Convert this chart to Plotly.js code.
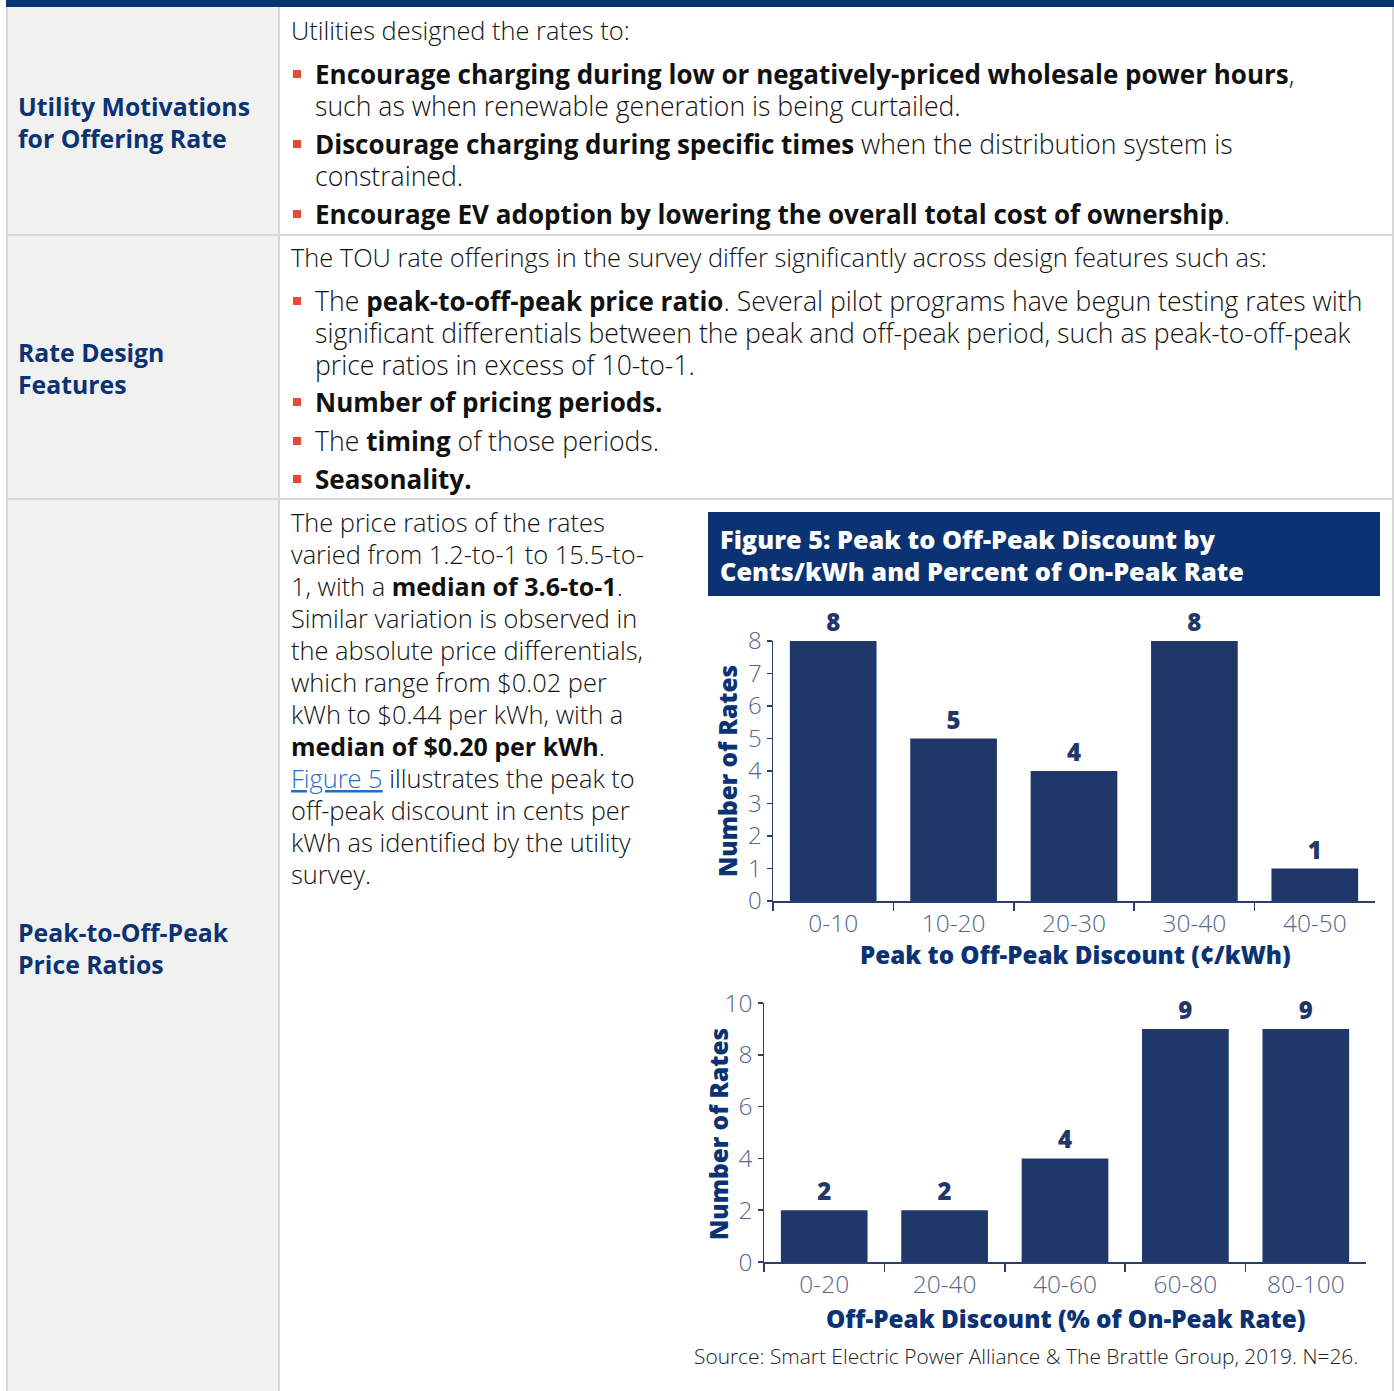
<!DOCTYPE html>
<html>
<head>
<meta charset="utf-8">
<script src="https://cdn.plot.ly/plotly-3.0.1.min.js"></script>
<style>html,body{margin:0;padding:0;background:#fff;}#chart{width:1394px;height:1391px;}</style>
</head>
<body>
<div id="chart"></div>
<script>
// ---------- data ----------
const centsCategories = ['0-10', '10-20', '20-30', '30-40', '40-50'];
const centsCounts = [8, 5, 4, 8, 1];
const pctCategories = ['0-20', '20-40', '40-60', '60-80', '80-100'];
const pctCounts = [2, 2, 4, 9, 9];

const B = s => '<b><span style="font-size:26px">' + s + '</span></b>';
const Bp = s => '<b><span style="font-size:25px">' + s + '</span></b>';
const rowLabels = [
  ['Utility Motivations', 'for Offering Rate'],
  ['Rate Design', 'Features'],
  ['Peak-to-Off-Peak', 'Price Ratios']
];
const row1Intro = 'Utilities designed the rates to:';
const row1Bullets = [
  [B('Encourage charging during low or negatively-priced wholesale power hours') + ',', 'such as when renewable generation is being curtailed.'],
  [B('Discourage charging during specific times') + ' when the distribution system is', 'constrained.'],
  [B('Encourage EV adoption by lowering the overall total cost of ownership') + '.']
];
const row2Intro = 'The TOU rate offerings in the survey differ significantly across design features such as:';
const row2Bullets = [
  ['The ' + B('peak-to-off-peak price ratio') + '. Several pilot programs have begun testing rates with',
   'significant differentials between the peak and off-peak period, such as peak-to-off-peak',
   'price ratios in excess of 10-to-1.'],
  [B('Number of pricing periods.')],
  ['The ' + B('timing') + ' of those periods.'],
  [B('Seasonality.')]
];
const row3Para = [
  'The price ratios of the rates',
  'varied from 1.2-to-1 to 15.5-to-',
  '1, with a ' + Bp('median of 3.6-to-1') + '.',
  'Similar variation is observed in',
  'the absolute price differentials,',
  'which range from $0.02 per',
  'kWh to $0.44 per kWh, with a',
  Bp('median of $0.20 per kWh') + '.',
  '<span style="color:#1f6fc5;text-decoration:underline">Figure 5</span> illustrates the peak to',
  'off-peak discount in cents per',
  'kWh as identified by the utility',
  'survey.'
];
const figTitle = ['Figure 5: Peak to Off-Peak Discount by', 'Cents/kWh and Percent of On-Peak Rate'];
const axisTitle1 = 'Peak to Off-Peak Discount (¢/kWh)';
const axisTitle2 = 'Off-Peak Discount (% of On-Peak Rate)';
const yTitle = 'Number of Rates';
const sourceText = 'Source: Smart Electric Power Alliance & The Brattle Group, 2019. N=26.';

// ---------- helpers ----------
const W = 1394, H = 1391;
const px = x => x / W;
const py = y => 1 - y / H;
const NAVY = '#0b3273';
const BAR = '#1f3869';
const TICK = '#56668c';
const FONT = 'Open Sans';
const LINE = 32;                 // line pitch of the body text, px
const BASE = LINE / 1.3;         // base font size so Plotly's 1.3em line spacing gives LINE
const annotations = [];
const shapes = [];

function ann(text, x, y, o) {
  o = o || {};
  annotations.push({
    text: text, x: px(x), y: py(y), xref: 'paper', yref: 'paper',
    xanchor: o.xanchor || 'left', yanchor: 'middle', align: o.align || 'left',
    showarrow: false, textangle: o.angle || 0,
    font: {family: FONT, size: o.size || 25.4, color: o.color || '#111', weight: o.weight || 300}
  });
}
// several lines in one annotation; firstY is the centre of the first line
function annLines(lines, x, firstY, size, o) {
  o = o || {};
  const txt = lines.map(l => '<span style="font-size:' + size + 'px">' + l + '</span>').join('<br>');
  ann(txt, x, firstY + (lines.length - 1) * LINE / 2, Object.assign({}, o, {size: BASE}));
}
function rect(x0, y0, x1, y1, fill, layer) {
  shapes.push({type: 'rect', xref: 'paper', yref: 'paper', x0: px(x0), x1: px(x1), y0: py(y1), y1: py(y0),
    fillcolor: fill, line: {width: 0}, layer: layer || 'below'});
}
function line(x0, y0, x1, y1, color, w) {
  shapes.push({type: 'line', xref: 'paper', yref: 'paper', x0: px(x0), x1: px(x1), y0: py(y0), y1: py(y1),
    line: {color: color, width: w}, layer: 'below'});
}
function bullet(y) { rect(293, y - 4, 301, y + 4, '#e8483a', 'above'); }

// ---------- table ----------
rect(6, 6, 279, 1391, '#f1f1ef');
rect(6, 0, 1394, 7, NAVY, 'above');
line(7, 6, 7, 1391, '#d8d8d8', 2);
line(279, 6, 279, 1391, '#d8d8d8', 2);
line(1393, 6, 1393, 1391, '#d8d8d8', 2);
line(6, 235, 1394, 235, '#d8d8d8', 2);
line(6, 499, 1394, 499, '#d8d8d8', 2);

const labelYs = [106, 352, 932];
rowLabels.forEach((lab, i) =>
  annLines(lab, 16, labelYs[i], 24.8, {color: NAVY, weight: 700}));

// row 1
ann(row1Intro, 289, 30);
const r1Y = [74, 144, 214];
row1Bullets.forEach((b, i) => { bullet(r1Y[i]); annLines(b, 313, r1Y[i], 26.6); });
// row 2
ann(row2Intro, 289, 257);
const r2Y = [301, 402, 441, 479];
row2Bullets.forEach((b, i) => { bullet(r2Y[i]); annLines(b, 313, r2Y[i], 26.6); });
// row 3
annLines(row3Para, 289, 522, 25.4);

// figure title box
rect(708, 512, 1380, 596, NAVY, 'above');
annLines(figTitle, 718, 539, 25.3, {color: '#fff', weight: 800});

// axis titles
ann(yTitle, 727, 771, {angle: -90, xanchor: 'center', color: NAVY, weight: 800, size: 24.4});
ann(yTitle, 718, 1134, {angle: -90, xanchor: 'center', color: NAVY, weight: 800, size: 24.4});
ann(axisTitle1, 1075, 955, {xanchor: 'center', color: NAVY, weight: 800, size: 24.2});
ann(axisTitle2, 1066, 1318, {xanchor: 'center', color: NAVY, weight: 800, size: 24.3});
ann(sourceText, 1360, 1356, {xanchor: 'right', color: '#222', weight: 300, size: 20.9});

// ---------- charts ----------
const barCommon = {
  type: 'bar', marker: {color: BAR}, textposition: 'outside', cliponaxis: false,
  constraintext: 'none', texttemplate: '%{y}', hoverinfo: 'none',
  textfont: {family: FONT, size: 24, color: BAR, weight: 800}
};
const traces = [
  Object.assign({}, barCommon, {x: centsCategories, y: centsCounts, xaxis: 'x', yaxis: 'y'}),
  Object.assign({}, barCommon, {x: pctCategories, y: pctCounts, xaxis: 'x2', yaxis: 'y2'})
];

const xCommon = {
  showline: true, linecolor: '#2b3f6e', linewidth: 1.5, ticks: 'outside', tickson: 'boundaries',
  ticklen: 8, tickcolor: '#2b3f6e', tickwidth: 1.5, showgrid: false, zeroline: false,
  tickfont: {family: FONT, size: 24.5, color: TICK, weight: 300}, fixedrange: true
};
const yCommon = {
  showline: true, linecolor: '#2b3f6e', linewidth: 1.5, ticks: 'outside', ticklen: 5,
  tickcolor: '#2b3f6e', tickwidth: 1.5, showgrid: false, zeroline: false, fixedrange: true
};

const layout = {
  width: W, height: H, margin: {l: 0, r: 0, t: 0, b: 0},
  paper_bgcolor: '#fff', plot_bgcolor: 'rgba(0,0,0,0)', showlegend: false,
  bargap: 0.28, font: {family: FONT},
  xaxis: Object.assign({}, xCommon, {domain: [px(773), px(1375)], anchor: 'y'}),
  yaxis: Object.assign({}, yCommon, {domain: [py(901), py(641)], anchor: 'x', range: [0, 8], dtick: 1,
    tickfont: {family: FONT, size: 24, color: TICK, weight: 300}}),
  xaxis2: Object.assign({}, xCommon, {domain: [px(764), px(1366)], anchor: 'y2'}),
  yaxis2: Object.assign({}, yCommon, {domain: [py(1262), py(1003)], anchor: 'x2', range: [0, 10], dtick: 2,
    tickfont: {family: FONT, size: 24.5, color: TICK, weight: 300}}),
  shapes: shapes, annotations: annotations
};

Plotly.newPlot('chart', traces, layout, {staticPlot: true, displayModeBar: false});
</script>
</body>
</html>
